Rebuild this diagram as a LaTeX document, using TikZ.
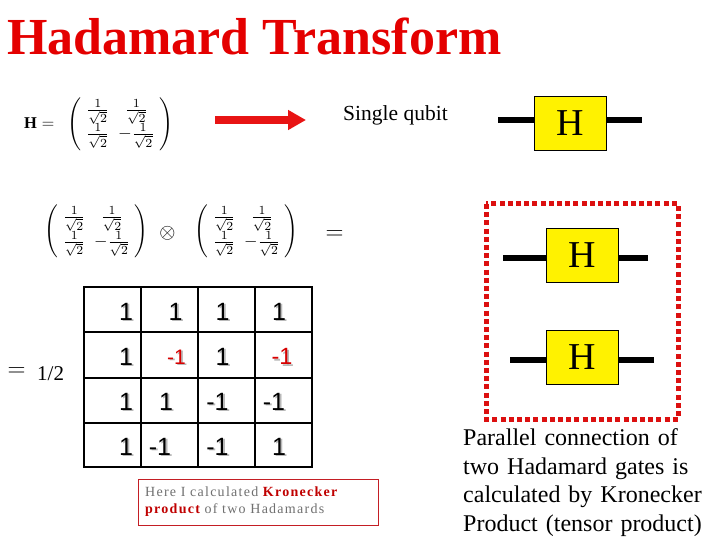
\documentclass[tikz,border=0pt]{standalone}
\usepackage{fontspec}
\usepackage{graphicx}
\setmainfont{Liberation Serif}
\setsansfont{Liberation Sans}
\newfontfamily\notefont[LetterSpace=9]{Liberation Serif}
\usetikzlibrary{arrows.meta,calc}
\definecolor{titlered}{RGB}{228,0,0}
\definecolor{arrowred}{RGB}{232,20,20}
\definecolor{dotred}{RGB}{220,16,16}
\definecolor{boxred}{RGB}{196,30,36}
\definecolor{kred}{RGB}{192,0,0}
\definecolor{notegray}{RGB}{112,112,112}
\definecolor{shade}{RGB}{185,185,185}
\definecolor{numred}{RGB}{215,0,0}
\newcommand\tabnum[6]{%
  \node[num,font=\sffamily\fontsize{#5}{#5}\selectfont,text=shade] (#1s) at ($(#2,#3)+(1.8,1.8)$) {#4};
  \node[num,font=\sffamily\fontsize{#5}{#5}\selectfont,text=#6] (#1) at (#2,#3) {#4};}
\newcommand\hmat[1]{\resizebox*{#1}{53pt}{\fontsize{10}{12}\selectfont$\renewcommand\arraystretch{1}\left(\begin{array}{@{\hspace{2.5pt}}c@{\hspace{5pt}}c@{\hspace{2.5pt}}}\frac{1}{\sqrt{2}}&\frac{1}{\sqrt{2}}\\ \frac{1}{\sqrt{2}}&-\frac{1}{\sqrt{2}}\end{array}\right)$}}
\begin{document}
\begin{tikzpicture}[x=1pt,y=-1pt,
  gate/.style={draw=black,line width=0.8pt,fill=yellow,minimum width=72pt,minimum height=54pt,inner sep=0pt,font=\fontsize{38}{40}\selectfont},
  wire/.style={line width=6pt},
  num/.style={anchor=base,inner sep=0pt},
  grid/.style={line width=2.7pt},
  mtx/.style={inner sep=0pt}]
\useasboundingbox[fill=white] (0,0) rectangle (720,540);

% title
\node[anchor=base west,inner sep=0pt,text=titlered,font=\bfseries\fontsize{52}{56}\selectfont] (title) at (7,55) {Hadamard Transform};

% top matrix
\node[anchor=base west,inner sep=0pt,font=\fontsize{16.5}{19}\selectfont] (Heq) at (24,129) {$\mathbf{H}=$};
\node[mtx] (Hdef) at (120.5,124) {\hmat{105pt}};

% red arrow
\coordinate (arrS) at (215,120);
\coordinate (arrE) at (306,120);
\draw[arrowred,line width=8pt,-{Triangle[length=18pt,width=19pt]}] (arrS) -- (arrE);

\node[anchor=base west,inner sep=0pt,font=\fontsize{21.5}{24}\selectfont] (single) at (343,121) {Single qubit};

% single gate
\node[gate] (g1) at (570.5,123.5) {H};
\coordinate (w1l) at (498,120.5);
\coordinate (w1r) at (642,120.5);
\draw[wire] (w1l) -- (w1l -| g1.west);
\draw[wire] (w1r) -- (w1r -| g1.east);

% second row of matrices
\node[mtx] (mL) at (96.5,231.5) {\hmat{103pt}};
\node[inner sep=0pt,font=\fontsize{22}{22}\selectfont] (otimes) at (167.5,233) {$\otimes$};
\node[mtx] (mR) at (246.5,231.5) {\hmat{103pt}};
\node[inner sep=0pt,font=\fontsize{25}{25}\selectfont] (eq1) at (334.5,235) {$=$};

% dotted frame and two gates
\draw[dotred,line width=5pt,dash pattern=on 5pt off 3.2pt] (486,204) rectangle (678,419);
\node[gate] (g2) at (582,255) {H};
\coordinate (w2l) at (503,258);
\coordinate (w2r) at (648,258);
\draw[wire] (w2l) -- (w2l -| g2.west);
\draw[wire] (w2r) -- (w2r -| g2.east);
\node[gate] (g3) at (582,357) {H};
\coordinate (w3l) at (510,360);
\coordinate (w3r) at (654,360);
\draw[wire] (w3l) -- (w3l -| g3.west);
\draw[wire] (w3r) -- (w3r -| g3.east);

% = 1/2
\node[inner sep=0pt,font=\fontsize{26}{26}\selectfont] (eq2) at (16.5,372) {$=$};
\node[anchor=base west,inner sep=0pt,font=\fontsize{21}{24}\selectfont] (half) at (37,380) {1/2};

% table
\draw[grid] (84,287) rectangle (312,467);
\foreach \xx in {141,198,255} \draw[grid] (\xx,287) -- (\xx,467);
\foreach \yy in {332,378,423} \draw[grid] (84,\yy) -- (312,\yy);

\tabnum{a11}{126}{320}{1}{25}{black}
\tabnum{a12}{175.5}{320}{1}{25}{black}
\tabnum{a13}{222.5}{320}{1}{25}{black}
\tabnum{a14}{279}{320}{1}{25}{black}
\tabnum{a21}{126}{365}{1}{25}{black}
\tabnum{a22}{176.5}{364}{-1}{21}{numred}
\tabnum{a23}{222.5}{365}{1}{25}{black}
\tabnum{a24}{282}{364.5}{-1}{23.5}{numred}
\tabnum{a31}{126}{410}{1}{25}{black}
\tabnum{a32}{166}{410}{1}{25}{black}
\tabnum{a33}{217.5}{410}{-1}{25}{black}
\tabnum{a34}{274}{410}{-1}{25}{black}
\tabnum{a41}{126}{455}{1}{25}{black}
\tabnum{a42}{160}{455}{-1}{25}{black}
\tabnum{a43}{217.5}{455}{-1}{25}{black}
\tabnum{a44}{279}{455}{1}{25}{black}

% note box
\draw[boxred,line width=1pt] (138,479.5) rectangle (378.5,525.5);
\node[anchor=north west,inner sep=0pt,text width=234pt,align=left,text=notegray,font=\notefont\fontsize{14}{17}\selectfont] (note) at (145,487) {Here I calculated \textcolor{kred}{\bfseries Kronecker}\\\textcolor{kred}{\bfseries product} of two Hadamards};

% explanation
\node[anchor=north west,inner sep=0pt,text width=250pt,align=left,font=\fontsize{24}{28.5}\selectfont] (expl) at (463,428.5) {Parallel connection of\\two Hadamard gates is\\calculated by Kronecker\\Product (tensor product)};
\end{tikzpicture}
\end{document}
